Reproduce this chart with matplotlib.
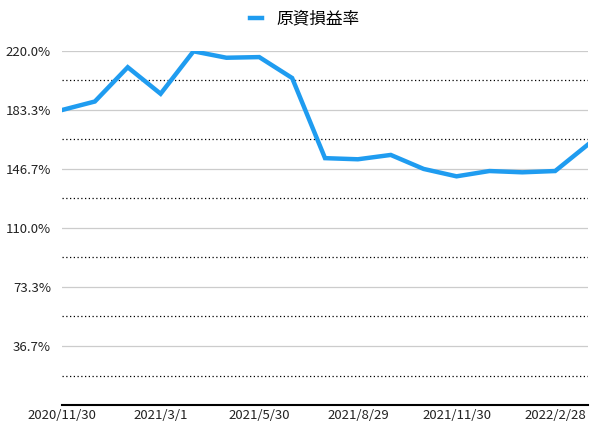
import matplotlib
matplotlib.use("Agg")
import matplotlib.pyplot as plt
from matplotlib.ticker import FixedLocator

plt.rcParams["font.family"] = ["Noto Sans CJK JP", "DejaVu Sans"]

LINE = "#1f9cf0"

# monthly points, labels every third point
dates = ["2020/11/30", "2020/12/31", "2021/1/31", "2021/3/1", "2021/3/31",
         "2021/4/30", "2021/5/30", "2021/6/30", "2021/7/31", "2021/8/29",
         "2021/9/30", "2021/10/31", "2021/11/30", "2021/12/31", "2022/1/31",
         "2022/2/28", "2022/3/31"]
rate = [183.3, 188.6, 209.9, 193.4, 219.8, 215.8, 216.2, 203.2, 153.4,
        152.7, 155.4, 146.7, 142.1, 145.4, 144.6, 145.4, 161.9]
label_idx = [0, 3, 6, 9, 12, 15]
y_major = [36.67, 73.33, 110.0, 146.67, 183.33, 220.0]
y_minor = [18.33, 55.0, 91.67, 128.33, 165.0, 201.67]
series_name = "原資損益率"

fig = plt.figure(figsize=(6.1, 4.32), dpi=100)
ax = fig.add_axes([0.1016, 0.0625, 0.8624, 0.8195])

x = list(range(len(dates)))
ax.plot(x, rate, color=LINE, lw=3.2, solid_joinstyle="miter",
        label=series_name, zorder=3)

ax.set_xlim(0, len(dates) - 1)
ax.set_ylim(0, 220)

ax.set_xticks(label_idx)
ax.set_xticklabels([dates[i] for i in label_idx])
ax.set_yticks(y_major)
ax.set_yticklabels([f"{v:.1f}%" for v in y_major])
ax.yaxis.set_minor_locator(FixedLocator(y_minor))

ax.grid(True, which="major", axis="y", color="#cccccc", lw=0.9)
ax.grid(True, which="minor", axis="y", color="#000000", lw=0.9,
        ls=(0, (1, 2)))
ax.set_axisbelow(True)

for s in ("left", "right", "top"):
    ax.spines[s].set_visible(False)
ax.spines["bottom"].set_color("black")
ax.spines["bottom"].set_linewidth(1.5)

ax.tick_params(axis="both", which="both", length=0, labelsize=9.5,
               labelcolor="#222222")
ax.tick_params(axis="y", pad=8)
ax.tick_params(axis="x", pad=3)

fig.legend(loc="upper center", bbox_to_anchor=(0.5, 1.01), frameon=False,
           fontsize=12, handlelength=0.7, handletextpad=0.9)

fig.savefig("out.png", dpi=100)
